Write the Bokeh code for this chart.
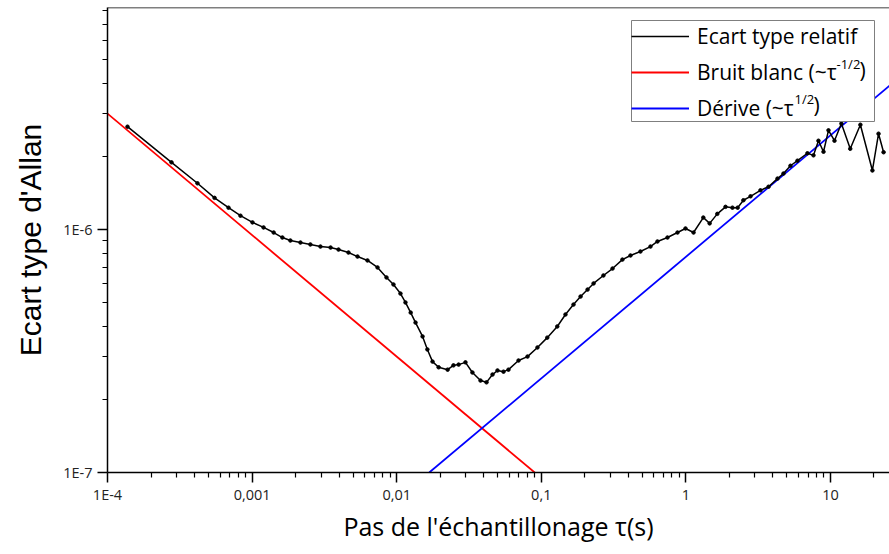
from bokeh.plotting import figure
from bokeh.models import FixedTicker, Legend, LegendItem, Label, BoxAnnotation, Span
from bokeh.embed import file_html
from bokeh.resources import INLINE

# Allan deviation (relative) vs averaging time tau (s)
tau = [1.375e-4, 2.77e-4, 4.19e-4, 5.50e-4, 6.87e-4, 8.31e-4, 1.006e-3, 1.20e-3, 1.41e-3,
       1.62e-3, 1.84e-3, 2.16e-3, 2.53e-3, 2.97e-3, 3.49e-3, 3.96e-3, 4.64e-3, 5.36e-3,
       6.28e-3, 7.37e-3, 8.50e-3, 9.50e-3, 1.062e-2, 1.15e-2, 1.25e-2, 1.35e-2, 1.51e-2,
       1.63e-2, 1.77e-2, 1.95e-2, 2.25e-2, 2.47e-2, 2.68e-2, 2.99e-2, 3.34e-2, 3.80e-2,
       4.18e-2, 4.60e-2, 4.98e-2, 5.48e-2, 5.93e-2, 6.96e-2, 8.03e-2, 9.41e-2, 0.110,
       0.129, 0.147, 0.167, 0.187, 0.209, 0.230, 0.269, 0.311, 0.364, 0.414, 0.485, 0.569,
       0.636, 0.746, 0.875, 0.994, 1.13, 1.32, 1.46, 1.65, 1.88, 2.10, 2.28, 2.50, 2.80,
       3.28, 3.73, 4.30, 4.73, 5.29, 5.91, 6.93, 7.63, 8.26, 8.95, 9.69, 10.66, 11.9,
       13.7, 16.1, 19.5, 21.5, 23.3]
sigma = [2.65e-6, 1.89e-6, 1.55e-6, 1.35e-6, 1.23e-6, 1.14e-6, 1.07e-6, 1.02e-6, 9.72e-7,
         9.27e-7, 9.01e-7, 8.84e-7, 8.68e-7, 8.51e-7, 8.43e-7, 8.27e-7, 8.04e-7, 7.74e-7,
         7.46e-7, 6.98e-7, 6.35e-7, 5.94e-7, 5.45e-7, 5.01e-7, 4.55e-7, 4.14e-7, 3.63e-7,
         3.21e-7, 2.86e-7, 2.71e-7, 2.65e-7, 2.76e-7, 2.78e-7, 2.84e-7, 2.58e-7, 2.39e-7,
         2.35e-7, 2.53e-7, 2.63e-7, 2.60e-7, 2.65e-7, 2.89e-7, 3.00e-7, 3.27e-7, 3.59e-7,
         3.99e-7, 4.47e-7, 4.91e-7, 5.30e-7, 5.66e-7, 6.00e-7, 6.47e-7, 6.91e-7, 7.52e-7,
         7.82e-7, 8.12e-7, 8.51e-7, 8.93e-7, 9.27e-7, 9.72e-7, 1.01e-6, 9.72e-7, 1.12e-6,
         1.06e-6, 1.16e-6, 1.24e-6, 1.23e-6, 1.23e-6, 1.32e-6, 1.37e-6, 1.45e-6, 1.50e-6,
         1.62e-6, 1.70e-6, 1.83e-6, 1.92e-6, 2.06e-6, 2.02e-6, 2.32e-6, 2.09e-6, 2.56e-6,
         2.32e-6, 2.73e-6, 2.15e-6, 2.70e-6, 1.75e-6, 2.48e-6, 2.08e-6]

# white noise (~tau^-1/2) and drift (~tau^1/2) asymptotes (end points)
white_tau = [1e-4, 0.09]
white_sigma = [3.0e-6, 1.0e-7]
drift_tau = [0.0168, 30.0]
drift_sigma = [1.0e-7, 4.23e-6]

x_ticks = [1e-4, 1e-3, 1e-2, 1e-1, 1.0, 10.0]
x_tick_labels = ["1E-4", "0,001", "0,01", "0,1", "1", "10"]
y_ticks = [1e-7, 1e-6]
y_tick_labels = ["1E-7", "1E-6"]
x_minor = [m * 10.0 ** e for e in range(-4, 2) for m in range(2, 10)]
y_minor = [m * 10.0 ** e for e in (-7, -6) for m in range(2, 10)]
Y_TOP = 8.2e-6

p = figure(width=889, height=554, x_axis_type="log", y_axis_type="log",
           x_range=(1e-4, 25.6), y_range=(1e-7, Y_TOP),
           output_backend="svg", toolbar_location=None,
           min_border_left=107, min_border_right=0, min_border_top=7, min_border_bottom=82)

p.xgrid.grid_line_color = None
p.ygrid.grid_line_color = None
p.outline_line_color = None
p.background_fill_color = "white"
p.border_fill_color = "white"
p.add_layout(Span(location=Y_TOP, dimension="width", line_color="black", line_width=1.5))

r_red = p.line(white_tau, white_sigma, line_color="#ff0000", line_width=1.8)
r_blue = p.line(drift_tau, drift_sigma, line_color="#0000ff", line_width=1.8)
r_black = p.line(tau, sigma, line_color="black", line_width=1.5)
r_dots = p.scatter(tau, sigma, size=3.5, color="black")

for ax, ticks, minor, labels in ((p.xaxis[0], x_ticks, x_minor, x_tick_labels),
                                 (p.yaxis[0], y_ticks, y_minor, y_tick_labels)):
    ax.ticker = FixedTicker(ticks=ticks, minor_ticks=minor)
    ax.major_label_overrides = dict(zip(ticks, labels))
    ax.axis_line_width = 1.5
    ax.axis_line_color = "black"
    ax.major_tick_line_width = 1.5
    ax.major_tick_line_color = "black"
    ax.minor_tick_line_width = 1.2
    ax.minor_tick_line_color = "black"
    ax.major_tick_out = 10
    ax.major_tick_in = 0
    ax.minor_tick_out = 5
    ax.minor_tick_in = 0
    ax.major_label_text_font = "Open Sans"
    ax.major_label_text_font_size = "14.5px"
    ax.major_label_text_color = "#222222"
    ax.axis_label_text_font_style = "normal"
    ax.axis_label_text_color = "black"

p.xaxis.major_label_standoff = 2
p.yaxis.major_label_standoff = 5

p.xaxis.axis_label = "Pas de l'échantillonage τ(s)"
p.xaxis.axis_label_text_font = "Open Sans"
p.xaxis.axis_label_text_font_size = "25px"
p.xaxis.axis_label_standoff = 2

p.yaxis.axis_label = "Ecart type d'Allan"
p.yaxis.axis_label_text_font = "Liberation Sans"
p.yaxis.axis_label_text_font_size = "30px"
p.yaxis.axis_label_standoff = 13

# legend frame (drawn below the legend entries and superscripts)
p.add_layout(BoxAnnotation(left=524, right=767, bottom=351, top=452,
                           left_units="screen", right_units="screen",
                           bottom_units="screen", top_units="screen",
                           fill_color="white", fill_alpha=1.0,
                           line_color="#7f7f7f", line_alpha=1.0, line_width=1,
                           level="annotation"))

legend = Legend(items=[LegendItem(label="Ecart type relatif", renderers=[r_black]),
                       LegendItem(label="Bruit blanc (~τ", renderers=[r_red]),
                       LegendItem(label="Dérive (~τ", renderers=[r_blue])],
                location=(524, 350), margin=0, padding=3, spacing=8,
                glyph_width=58, glyph_height=24, label_height=24, label_width=159,
                label_standoff=8, label_text_font="Open Sans", label_text_font_size="21px",
                label_text_color="black", border_line_color=None,
                background_fill_alpha=0.0)
p.add_layout(legend)

sup_style = dict(x_units="screen", y_units="screen", text_font="Open Sans",
                 text_color="black", text_baseline="middle", level="overlay")
p.add_layout(Label(x=729, y=408.5, text="-1/2", text_font_size="13px", **sup_style))
p.add_layout(Label(x=752, y=402.5, text=")", text_font_size="21px", **sup_style))
p.add_layout(Label(x=687, y=373.5, text="1/2", text_font_size="13px", **sup_style))
p.add_layout(Label(x=706, y=368, text=")", text_font_size="21px", **sup_style))

open("out.html", "w").write(file_html(p, INLINE))
